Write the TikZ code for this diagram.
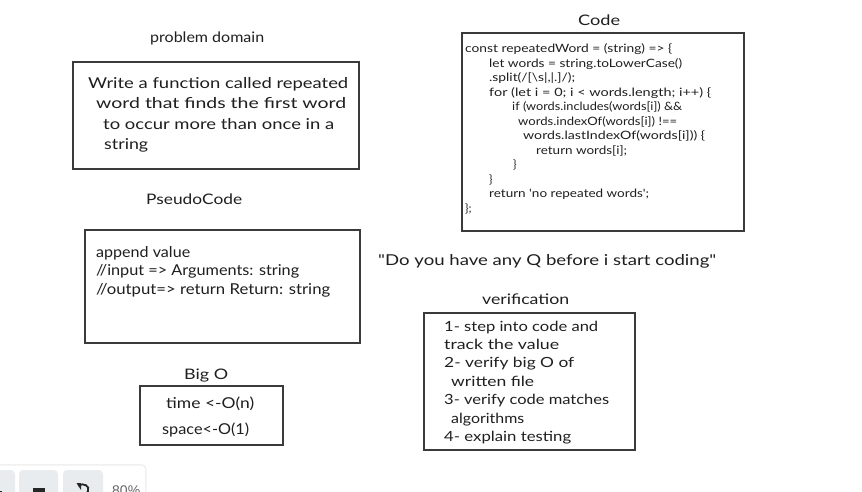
\documentclass[tikz,border=0pt]{standalone}
\usepackage{fontspec}
\usepackage{graphicx}
\newfontfamily\handfont{Lato}
\newfontfamily\uifont{Liberation Sans}
\definecolor{ink}{HTML}{1F1F1F}
\definecolor{frame}{HTML}{3A3A3A}
\definecolor{btn}{HTML}{E9ECEF}
\newcommand{\fitw}[2]{\resizebox{#1pt}{\height}{#2}}
\tikzset{
  x=1pt,y=-1pt,
  panel/.style={draw=frame,line width=1.2pt,fill=white,inner sep=0pt},
  hand/.style={anchor=base west,inner sep=0pt,text=ink,font=\handfont\fontsize{15}{15}\selectfont},
  listline/.style={hand,font=\handfont\fontsize{14}{15}\selectfont},
  title/.style={hand,font=\handfont\fontsize{14.5}{15}\selectfont},
  codeline/.style={hand,font=\handfont\fontsize{11.5}{12}\selectfont},
  toolbtn/.style={fill=btn,rounded corners=4pt},
}
\begin{document}
\begin{tikzpicture}
\useasboundingbox (0,0) rectangle (862,492);
\clip (0,0) rectangle (862,492);
\fill[white] (0,0) rectangle (862,492);
% boxes
\node[panel,minimum width=286pt,minimum height=107pt] (problembox) at (216,115.5) {};
\node[panel,minimum width=275pt,minimum height=113pt] (pseudobox) at (222.5,286.5) {};
\node[panel,minimum width=143pt,minimum height=59pt] (bigobox) at (211.5,415.5) {};
\node[panel,minimum width=282pt,minimum height=198pt] (codebox) at (603,132) {};
\node[panel,minimum width=211pt,minimum height=137pt] (verifybox) at (529.5,381.5) {};
% titles
\node[title] (t1) at (150,43) {\fitw{114}{problem domain}};
\node[title] (t2) at (146,204) {\fitw{96}{PseudoCode}};
\node[title] (t3) at (184,379.5) {\fitw{44}{Big O}};
\node[title] (t4) at (578,25.5) {\fitw{42}{Code}};
\node[title] (t5) at (482,304) {\fitw{87}{verification}};
% problem
\node[hand] (p1) at (88,89) {\fitw{260}{Write a function called repeated}};
\node[hand] (p2) at (96,109) {\fitw{250}{word that finds the first word}};
\node[hand] (p3) at (103,129.5) {\fitw{231}{to occur more than once in a}};
\node[hand] (p4) at (104,149.5) {\fitw{44}{string}};
% pseudo
\node[hand] (s1) at (96,257) {\fitw{94}{append value}};
\node[hand] (s2) at (96,275) {\fitw{203}{//input => Arguments: string}};
\node[hand] (s3) at (96,294) {\fitw{234}{//output=> return Return: string}};
% big o
\node[hand] (b1) at (166,408) {\fitw{88}{time <-O(n)}};
\node[hand] (b2) at (162,434) {\fitw{87}{space<-O(1)}};
% code
\node[codeline] (c1) at (465,53) {\fitw{207}{const repeatedWord = (string) => \{}};
\node[codeline] (c2) at (489,67.5) {\fitw{193}{let words = string.toLowerCase()}};
\node[codeline] (c3) at (489,82) {\fitw{86}{.split(/[\textbackslash s|,|.]/);}};
\node[codeline] (c4) at (489,96.5) {\fitw{222}{for (let i = 0; i < words.length; i++) \{}};
\node[codeline] (c5) at (512,111) {\fitw{170}{if (words.includes(words[i]) \&\&}};
\node[codeline] (c6) at (518,125.5) {\fitw{159}{words.indexOf(words[i]) !==}};
\node[codeline] (c7) at (523,140) {\fitw{182}{words.lastIndexOf(words[i])) \{}};
\node[codeline] (c8) at (536,154.5) {\fitw{91}{return words[i];}};
\node[codeline] (c9) at (513,168) {\}};
\node[codeline] (c10) at (489,183) {\}};
\node[codeline] (c11) at (489,197.5) {\fitw{160}{return 'no repeated words';}};
\node[codeline] (c12) at (465,212.5) {\};};
% quote
\node[hand] (q) at (378,265) {\fitw{338}{"Do you have any Q before i start coding"}};
% verification
\node[listline] (v1) at (444,331) {\fitw{154}{1- step into code and}};
\node[listline] (v2) at (444,349) {\fitw{115}{track the value}};
\node[listline] (v3) at (444,367) {\fitw{130}{2- verify big O of}};
\node[listline] (v4) at (451,386) {\fitw{83}{written file}};
\node[listline] (v5) at (444,404) {\fitw{165}{3- verify code matches}};
\node[listline] (v6) at (451,423) {\fitw{73}{algorithms}};
\node[listline] (v7) at (444,441) {\fitw{127}{4- explain testing}};
% toolbar
\fill[black!6,rounded corners=5pt] (-8,464) rectangle (146.5,510);
\fill[white,rounded corners=4pt] (-8,465.5) rectangle (145,510);
\fill[toolbtn] (-20,470) rectangle (15,510);
\fill[toolbtn] (19,470) rectangle (58,510);
\fill[toolbtn] (63,470) rectangle (103,510);
\fill[black!85] (-2,490.5) rectangle (2,492);
\fill[black!85] (33,488) rectangle (45,492);
\draw[black!85,line width=1.8pt] (78,485.5) .. controls (84,482.5) and (90,486) .. (88,491) .. controls (87.5,493) and (86,494) .. (85,495);
\fill[black!85] (76.5,483) -- (81,483) -- (81,490) -- cycle;
\node[anchor=base west,inner sep=0pt,text=black!60,font=\uifont\fontsize{14}{14}\selectfont] (zoomlabel) at (112,495.5) {80\%};
\end{tikzpicture}
\end{document}
